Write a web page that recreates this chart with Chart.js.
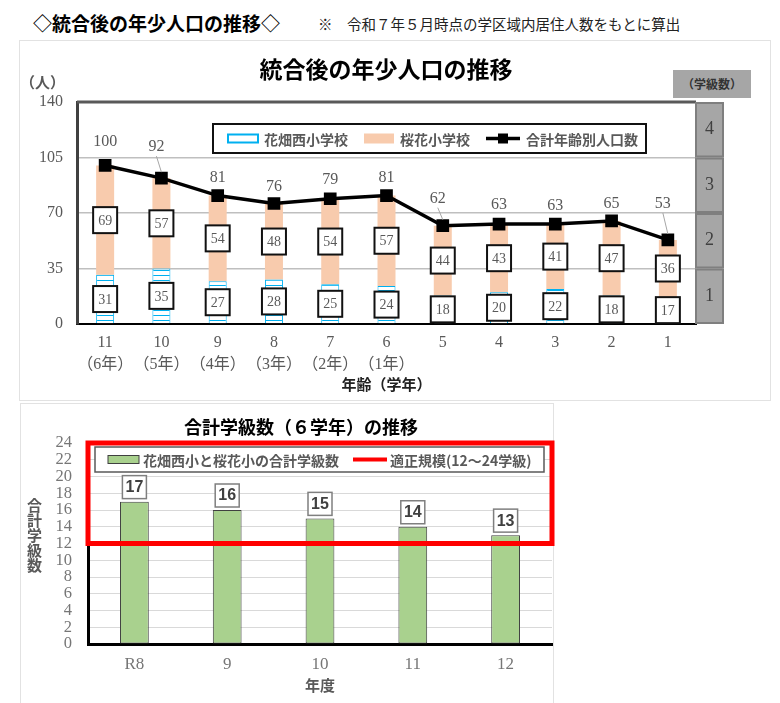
<!DOCTYPE html>
<html lang="ja">
<head>
<meta charset="utf-8">
<title>統合後の年少人口の推移</title>
<script src="https://cdn.jsdelivr.net/npm/chart.js@4.4.1/dist/chart.umd.min.js"></script>
<style>
  body { margin: 0; background: #fff; font-family: "Noto Sans CJK JP", sans-serif; }
  #page { position: relative; width: 780px; height: 703px; overflow: hidden; }
  .abs { position: absolute; }
  .panel { border: 1px solid #e2e2e2; box-sizing: border-box; }
  #head { left: 33px; top: 9px; font-size: 19px; font-weight: bold; color: #000; white-space: nowrap; }
  #note { left: 318px; top: 13px; font-size: 14.5px; color: #222; white-space: nowrap; }
  #title1 { left: 186px; width: 400px; top: 51px; text-align: center; font-size: 23px; font-weight: bold; color: #000; }
  #unit { left: 20px; top: 71px; font-size: 15px; font-weight: bold; color: #595959; }
  #classHead { left: 673px; top: 70px; width: 78px; height: 28px; line-height: 28px; background: #a6a6a6;
               text-align: center; font-size: 12px; font-weight: bold; color: #333; }
  #title2 { left: 101px; width: 400px; top: 413px; text-align: center; font-size: 18px; font-weight: bold; color: #000; }
  #ytitle2 { left: 26px; top: 498px; writing-mode: vertical-rl; font-size: 15px; font-weight: bold; color: #595959; line-height: 16px; }
</style>
</head>
<body>
<div id="page">
  <div class="abs" id="head">◇統合後の年少人口の推移◇</div>
  <div class="abs" id="note">※　令和７年５月時点の学区域内居住人数をもとに算出</div>
  <div class="abs panel" style="left:19px;top:40px;width:752px;height:361px"></div>
  <div class="abs panel" style="left:20px;top:403px;width:534px;height:310px"></div>
  <canvas id="popChart" class="abs" width="780" height="360" style="left:0;top:40px"></canvas>
  <canvas id="classChart" class="abs" width="560" height="303" style="left:0;top:400px"></canvas>
  <div class="abs" id="title1">統合後の年少人口の推移</div>
  <div class="abs" id="unit">（人）</div>
  <div class="abs" id="classHead">（学級数）</div>
  <div class="abs" id="title2">合計学級数（６学年）の推移</div>
  <div class="abs" id="ytitle2">合計学級数</div>
</div>

<script>
// ---- data: top chart ----
var ages = ['11', '10', '9', '8', '7', '6', '5', '4', '3', '2', '1'];
var grades = ['（6年）', '（5年）', '（4年）', '（3年）', '（2年）', '（1年）', '', '', '', '', ''];
var hanabatakeNishi = [31, 35, 27, 28, 25, 24, 18, 20, 22, 18, 17];
var ouka = [69, 57, 54, 48, 54, 57, 44, 43, 41, 47, 36];
var totals = [100, 92, 81, 76, 79, 81, 62, 63, 63, 65, 53];
var classBands = ['1', '2', '3', '4'];
var popStep = 35;
var popMax = 140;

// ---- data: bottom chart ----
var years = ['R8', '9', '10', '11', '12'];
var totalClasses = [17, 16, 15, 14, 13];
var properMin = 12;
var properMax = 24;

// how far each total label sits above its point (the original moved a few by hand)
var labelLift = [24, 31, 18, 17, 19, 18, 27, 19, 18, 17, 36];

var jp = '"Noto Sans CJK JP", sans-serif';
var serif = '"Liberation Serif", "Noto Sans CJK JP", serif';

function stripes() {
  var c = document.createElement('canvas');
  c.width = 4; c.height = 5;
  var g = c.getContext('2d');
  g.fillStyle = '#fff';
  g.fillRect(0, 0, 4, 5);
  g.fillStyle = '#00b0f0';
  g.fillRect(0, 0, 4, 1);
  return g.createPattern(c, 'repeat');
}

// boxed value labels in the middle of each stacked bar
var boxLabels = {
  id: 'boxLabels',
  afterDatasetsDraw: function (chart) {
    var ctx = chart.ctx;
    ctx.save();
    [0, 1].forEach(function (di) {
      var meta = chart.getDatasetMeta(di);
      meta.data.forEach(function (bar, i) {
        var v = chart.data.datasets[di].data[i];
        var cy = (bar.y + bar.base) / 2;
        ctx.fillStyle = '#fff';
        ctx.strokeStyle = '#111';
        ctx.lineWidth = 2;
        ctx.fillRect(bar.x - 12, cy - 13, 24, 26);
        ctx.strokeRect(bar.x - 12, cy - 13, 24, 26);
        ctx.fillStyle = '#595959';
        ctx.font = '14px ' + serif;
        ctx.textAlign = 'center';
        ctx.textBaseline = 'middle';
        ctx.fillText(v, bar.x, cy + 1);
      });
    });
    // totals above the line
    var lm = chart.getDatasetMeta(2);
    lm.data.forEach(function (pt, i) {
      var lift = labelLift[i];
      if (lift > 25) {
        ctx.strokeStyle = '#a6a6a6';
        ctx.lineWidth = 1;
        ctx.beginPath();
        ctx.moveTo(pt.x - 5, pt.y - lift + 9);
        ctx.lineTo(pt.x, pt.y - 6);
        ctx.stroke();
      }
      ctx.fillStyle = '#595959';
      ctx.font = '16px ' + serif;
      ctx.textAlign = 'center';
      ctx.textBaseline = 'middle';
      ctx.fillText(chart.data.datasets[2].data[i], pt.x - (lift > 25 ? 5 : 0), pt.y - lift);
    });
    ctx.restore();
  }
};

// frame, class-count boxes and legend of the top chart
var popFrame = {
  id: 'popFrame',
  afterDraw: function (chart) {
    var ctx = chart.ctx, a = chart.chartArea, y = chart.scales.y;
    ctx.save();
    ctx.strokeStyle = '#595959';
    ctx.lineWidth = 3;
    ctx.beginPath();
    ctx.moveTo(a.left, a.top);
    ctx.lineTo(a.right, a.top);
    ctx.stroke();

    classBands.forEach(function (t, k) {
      var y1 = y.getPixelForValue(popStep * k);
      var y2 = y.getPixelForValue(popStep * (k + 1));
      ctx.fillStyle = '#a6a6a6';
      ctx.fillRect(a.right, y2, 27, y1 - y2);
      ctx.strokeStyle = '#7f7f7f';
      ctx.lineWidth = 2;
      ctx.strokeRect(a.right, y2 + 1, 27, y1 - y2 - 2);
      ctx.fillStyle = '#404040';
      ctx.font = '18px ' + serif;
      ctx.textAlign = 'center';
      ctx.textBaseline = 'middle';
      ctx.fillText(t, a.right + 13.5, (y1 + y2) / 2);
    });

    // legend
    var lx = a.left + 136, ly = a.top + 22, lw = 433, lh = 29;
    ctx.fillStyle = '#fff';
    ctx.fillRect(lx, ly, lw, lh);
    ctx.strokeStyle = '#111';
    ctx.lineWidth = 2;
    ctx.strokeRect(lx, ly, lw, lh);
    var ds = chart.data.datasets;
    var cy = ly + lh / 2;
    var x = lx + 15;
    ctx.font = 'bold 14px ' + jp;
    ctx.textAlign = 'left';
    ctx.textBaseline = 'middle';
    ds.forEach(function (d, i) {
      if (i === 0) {
        ctx.fillStyle = '#fff';
        ctx.fillRect(x, cy - 4, 30, 8);
        ctx.strokeStyle = '#00b0f0';
        ctx.lineWidth = 2;
        ctx.strokeRect(x, cy - 4, 30, 8);
      } else if (i === 1) {
        ctx.fillStyle = d.backgroundColor;
        ctx.fillRect(x, cy - 5, 30, 10);
      } else {
        ctx.strokeStyle = '#000';
        ctx.lineWidth = 3.5;
        ctx.beginPath();
        ctx.moveTo(x, cy);
        ctx.lineTo(x + 34, cy);
        ctx.stroke();
        ctx.fillStyle = '#000';
        ctx.fillRect(x + 12, cy - 5, 10, 10);
        x += 4;
      }
      x += 36;
      ctx.fillStyle = '#595959';
      ctx.fillText(d.label, x, cy + 1);
      x += ctx.measureText(d.label).width + 16;
    });
    ctx.restore();
  }
};

new Chart(document.getElementById('popChart'), {
  type: 'bar',
  data: {
    labels: ages.map(function (a, i) { return grades[i] ? [a, grades[i]] : a; }),
    datasets: [
      {
        label: '花畑西小学校',
        data: hanabatakeNishi,
        backgroundColor: stripes(),
        borderColor: '#00b0f0',
        borderWidth: { left: 1, right: 1, top: 1, bottom: 0 },
        borderSkipped: false,
        barPercentage: 0.32,
        categoryPercentage: 1,
        order: 2
      },
      {
        label: '桜花小学校',
        data: ouka,
        backgroundColor: '#f8cbad',
        borderWidth: 0,
        barPercentage: 0.32,
        categoryPercentage: 1,
        order: 2
      },
      {
        type: 'line',
        label: '合計年齢別人口数',
        data: totals,
        stack: 'total',
        borderColor: '#000',
        borderWidth: 3.5,
        pointStyle: 'rect',
        pointRadius: 6.5,
        pointBackgroundColor: '#000',
        pointBorderColor: '#000',
        tension: 0,
        order: 1
      }
    ]
  },
  options: {
    responsive: false,
    animation: false,
    layout: { padding: { top: 62, right: 84, left: 0, bottom: 0 } },
    plugins: { legend: { display: false }, title: { display: false }, tooltip: { enabled: false } },
    scales: {
      x: {
        stacked: true,
        afterFit: function (s) { s.height = 76; },
        grid: { display: false, drawTicks: false },
        border: { color: '#000', width: 2 },
        ticks: { color: '#595959', padding: 8, font: { family: serif, size: 16, lineHeight: 1.35 }, maxRotation: 0, autoSkip: false },
        title: { display: true, text: '年齢（学年）', color: '#222', font: { family: jp, size: 15, weight: 'bold' }, padding: { top: 0, bottom: 7 } }
      },
      y: {
        stacked: true,
        min: 0,
        max: popMax,
        afterFit: function (s) { s.width = 77; },
        ticks: { stepSize: popStep, color: '#595959', padding: 14, font: { family: serif, size: 16 } },
        grid: { color: '#bfbfbf', lineWidth: 1.5, drawTicks: false },
        border: { color: '#404040', width: 3 }
      }
    }
  },
  plugins: [boxLabels, popFrame]
});

// ---- bottom chart ----
var classDecor = {
  id: 'classDecor',
  afterDatasetsDraw: function (chart) {
    var ctx = chart.ctx, a = chart.chartArea, y = chart.scales.y;
    ctx.save();
    // value boxes above bars
    chart.getDatasetMeta(0).data.forEach(function (bar, i) {
      var top = bar.y - 26;
      ctx.fillStyle = '#fff';
      ctx.fillRect(bar.x - 12, top, 24, 23);
      ctx.strokeStyle = '#7f7f7f';
      ctx.lineWidth = 1.5;
      ctx.strokeRect(bar.x - 12, top, 24, 23);
      ctx.fillStyle = '#404040';
      ctx.font = 'bold 16px "Liberation Sans Narrow", "Liberation Sans", sans-serif';
      ctx.textAlign = 'center';
      ctx.textBaseline = 'middle';
      ctx.fillText(chart.data.datasets[0].data[i], bar.x, top + 12);
    });
    // proper-size range
    var yTop = y.getPixelForValue(properMax), yBot = y.getPixelForValue(properMin);
    ctx.strokeStyle = '#ff0000';
    ctx.lineWidth = 5;
    ctx.strokeRect(a.left, yTop, a.right - a.left, yBot - yTop);

    // legend
    var lx = a.left + 7, ly = a.top + 4, lw = 449, lh = 25, cy = ly + lh / 2;
    ctx.fillStyle = '#fff';
    ctx.fillRect(lx, ly, lw, lh);
    ctx.strokeStyle = '#595959';
    ctx.lineWidth = 1.5;
    ctx.strokeRect(lx, ly, lw, lh);
    var x = lx + 13;
    ctx.fillStyle = '#a9d18e';
    ctx.fillRect(x, cy - 4, 31, 8);
    ctx.strokeStyle = '#404040';
    ctx.lineWidth = 1;
    ctx.strokeRect(x, cy - 4, 31, 8);
    x += 35;
    ctx.font = 'bold 14px ' + jp;
    ctx.textAlign = 'left';
    ctx.textBaseline = 'middle';
    ctx.fillStyle = '#595959';
    var t1 = chart.data.datasets[0].label;
    ctx.fillText(t1, x, cy + 1);
    x += ctx.measureText(t1).width + 14;
    ctx.strokeStyle = '#ff0000';
    ctx.lineWidth = 4;
    ctx.beginPath();
    ctx.moveTo(x, cy);
    ctx.lineTo(x + 34, cy);
    ctx.stroke();
    x += 37;
    ctx.fillText('適正規模(' + properMin + '〜' + properMax + '学級)', x, cy + 1);
    ctx.restore();
  }
};

new Chart(document.getElementById('classChart'), {
  type: 'bar',
  data: {
    labels: years,
    datasets: [{
      label: '花畑西小と桜花小の合計学級数',
      data: totalClasses,
      backgroundColor: '#a9d18e',
      borderColor: '#404040',
      borderWidth: 1,
      borderSkipped: false,
      barPercentage: 0.31,
      categoryPercentage: 1
    }]
  },
  options: {
    responsive: false,
    animation: false,
    layout: { padding: { top: 43, right: 8, left: 0, bottom: 0 } },
    plugins: { legend: { display: false }, title: { display: false }, tooltip: { enabled: false } },
    scales: {
      x: {
        afterFit: function (s) { s.height = 59; },
        grid: { display: false, drawTicks: false },
        border: { color: '#000', width: 3 },
        ticks: { color: '#767676', padding: 10, font: { family: serif, size: 17 } },
        title: { display: true, text: '年度', color: '#595959', font: { family: jp, size: 15, weight: 'bold' }, padding: { top: 0, bottom: 9 } }
      },
      y: {
        min: 0,
        max: 24,
        afterFit: function (s) { s.width = 88; },
        ticks: { stepSize: 2, autoSkip: false, color: '#767676', padding: 16, font: { family: serif, size: 16.5 } },
        grid: { color: '#d9d9d9', drawTicks: false },
        border: { color: '#000', width: 3 }
      }
    }
  },
  plugins: [classDecor]
});
</script>
</body>
</html>
